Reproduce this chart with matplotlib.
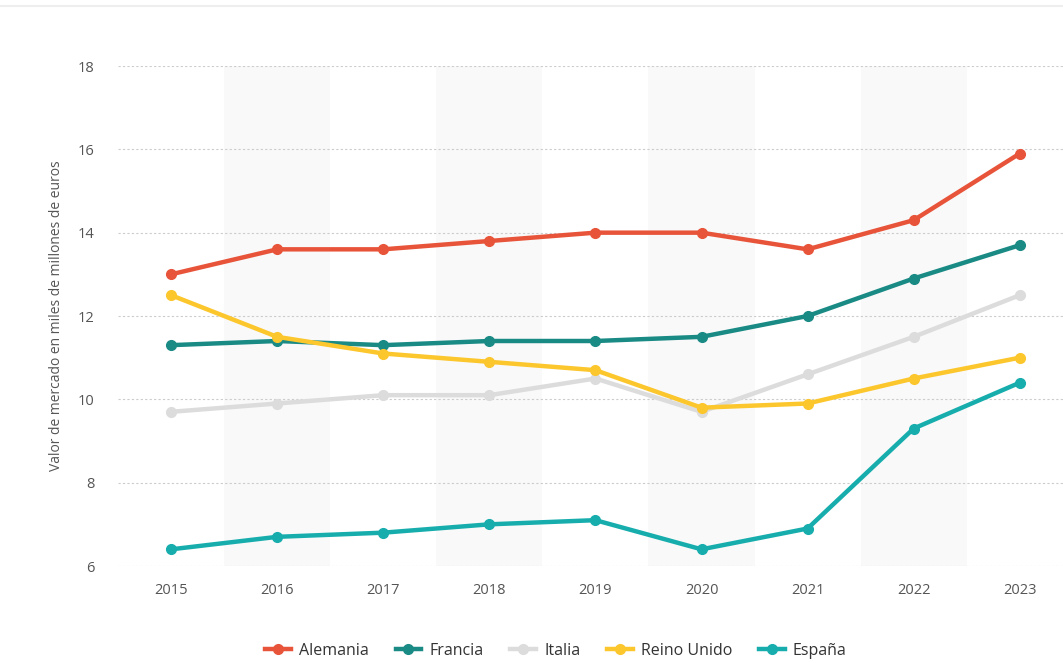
import matplotlib
matplotlib.use("Agg")
from matplotlib import pyplot as plt
from matplotlib.lines import Line2D

years = [2015, 2016, 2017, 2018, 2019, 2020, 2021, 2022, 2023]
alemania = [13.0, 13.6, 13.6, 13.8, 14.0, 14.0, 13.6, 14.3, 15.9]
francia = [11.3, 11.4, 11.3, 11.4, 11.4, 11.5, 12.0, 12.9, 13.7]
italia = [9.7, 9.9, 10.1, 10.1, 10.5, 9.7, 10.6, 11.5, 12.5]
reino_unido = [12.5, 11.5, 11.1, 10.9, 10.7, 9.8, 9.9, 10.5, 11.0]
espana = [6.4, 6.7, 6.8, 7.0, 7.1, 6.4, 6.9, 9.3, 10.4]

names = ["Alemania", "Francia", "Italia", "Reino Unido", "España"]
colors = ["#E8543A", "#1A8A85", "#DCDCDC", "#FCC62D", "#17ADAD"]
series = [alemania, francia, italia, reino_unido, espana]

plt.rcParams['font.family'] = ['Open Sans', 'DejaVu Sans']

fig = plt.figure(figsize=(10.63, 6.63), dpi=100)
ax = fig.add_axes([118 / 1063, 1 - 566 / 663, 1 - 118 / 1063, 500 / 663])

# alternating background bands
for i, yr in enumerate(years):
    if i % 2 == 1:
        ax.axvspan(yr - 0.5, yr + 0.5, color="#F9F9F9", zorder=0, lw=0)

for vals, c in zip(series, colors):
    ax.plot(years, vals, color=c, lw=3.2, marker="o", ms=7, zorder=3,
            solid_capstyle="round")

ax.set_xlim(2014.5, 2015 + (1063 - 171) / 106.1)
ax.set_ylim(6, 18)
ax.set_yticks(range(6, 19, 2))
ax.set_xticks(years)
ax.grid(axis="y", color="#CCCCCC", ls=(0, (2, 2)), lw=0.8)
ax.set_axisbelow(True)
for s in ax.spines.values():
    s.set_visible(False)
ax.tick_params(length=0, colors="#555555", labelsize=10.5)
ax.tick_params(axis="x", pad=12)
ax.tick_params(axis="y", pad=17)
ax.set_ylabel("Valor de mercado en miles de millones de euros", fontsize=10,
              color="#555555", labelpad=10)

handles = [Line2D([0], [0], color=c, lw=3.2, marker="o", ms=7) for c in colors]
fig.legend(handles, names, loc="center", bbox_to_anchor=(0.523, 1 - 651 / 663),
           ncol=5, frameon=False, fontsize=11.5, handlelength=1.6,
           columnspacing=1.7, handletextpad=0.5, labelcolor="#333333")

fig.add_artist(Line2D([0, 1], [1 - 6 / 663, 1 - 6 / 663], color="#EEEEEE", lw=1.5))

fig.savefig("out.png", dpi=100)
